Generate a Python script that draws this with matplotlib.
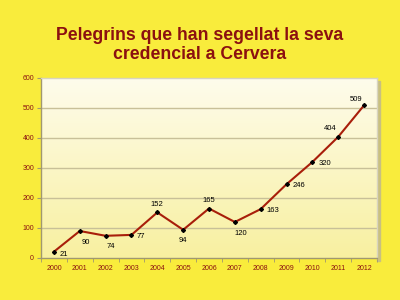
import numpy as np
import matplotlib.pyplot as plt
from matplotlib.colors import LinearSegmentedColormap

years = ['2000', '2001', '2002', '2003', '2004', '2005', '2006',
         '2007', '2008', '2009', '2010', '2011', '2012']
pilgrims = [21, 90, 74, 77, 152, 94, 165, 120, 163, 246, 320, 404, 509]
y_ticks = [0, 100, 200, 300, 400, 500, 600]
title = "Pelegrins que han segellat la seva\ncredencial a Cervera"

# label offsets (points) per point
offsets = [(7, -2), (4, -8), (4, -8), (7, -1), (0, 6), (0, -8), (0, 6),
           (4, -8), (9, -1), (9, -1), (9, -1), (-6, 6), (-6, 4)]

bg = '#F9EC3C'
dark_red = '#8B1010'

fig = plt.figure(figsize=(4, 3), dpi=100, facecolor=bg)
ax = fig.add_axes([41/400, 1-258/300, (377-41)/400, (258-78)/300])
ax.set_facecolor('none')

x = np.arange(len(years))
ax.set_xlim(-0.5, len(years) - 0.5)
ax.set_ylim(0, 600)

# gradient background
cmap = LinearSegmentedColormap.from_list('g', ['#F8F0A0', '#FEFCEC'])
grad = np.linspace(0, 1, 256).reshape(-1, 1)
ax.imshow(grad, extent=[0, 1, 0, 1], transform=ax.transAxes, cmap=cmap,
          aspect='auto', origin='lower', zorder=0)

# shadow on right
fig.patches.append(plt.Rectangle((377/400, 1-261/300), 3/400, (261-81)/300,
                                 transform=fig.transFigure, color='#C9C080',
                                 zorder=-1))

for yt in y_ticks[1:-1]:
    ax.axhline(yt, color='#C8C098', lw=1, zorder=1)

ax.plot(x, pilgrims, color='#A81E0A', lw=1.5, zorder=3)
ax.plot(x, pilgrims, linestyle='none', marker='D', ms=2, color='black', zorder=4)

for xi, v, (dx, dy) in zip(x, pilgrims, offsets):
    ax.annotate(str(v), (xi, v), xytext=(dx, dy), textcoords='offset points',
                ha='center', va='center', fontsize=5.5, family='Liberation Sans',
                color='black', zorder=5)

ax.set_yticks(y_ticks)
ax.set_yticklabels([str(t) for t in y_ticks], fontsize=5, color=dark_red,
                   family='Liberation Sans')
ax.set_xticks(x)
ax.set_xticklabels(years, fontsize=5, color=dark_red, family='Liberation Sans')
ax.tick_params(axis='x', length=0, pad=5)
ax.set_xticks(np.arange(-0.5, len(years)), minor=True)
ax.tick_params(axis='x', which='minor', length=3, color='#A09870', direction='out')
ax.tick_params(axis='y', length=3, color='#A09870', pad=2)

for s in ['left', 'bottom']:
    ax.spines[s].set_color('#A09870')
    ax.spines[s].set_linewidth(1)
for s in ['right', 'top']:
    ax.spines[s].set_color('#D8D4C0')
    ax.spines[s].set_linewidth(1)

fig.text(0.5, 1 - 45/300, title, ha='center', va='center', fontsize=12.7,
         fontweight='bold', color=dark_red, family='Liberation Sans',
         linespacing=1.15)

fig.savefig('out.png', dpi=100, facecolor=bg)
